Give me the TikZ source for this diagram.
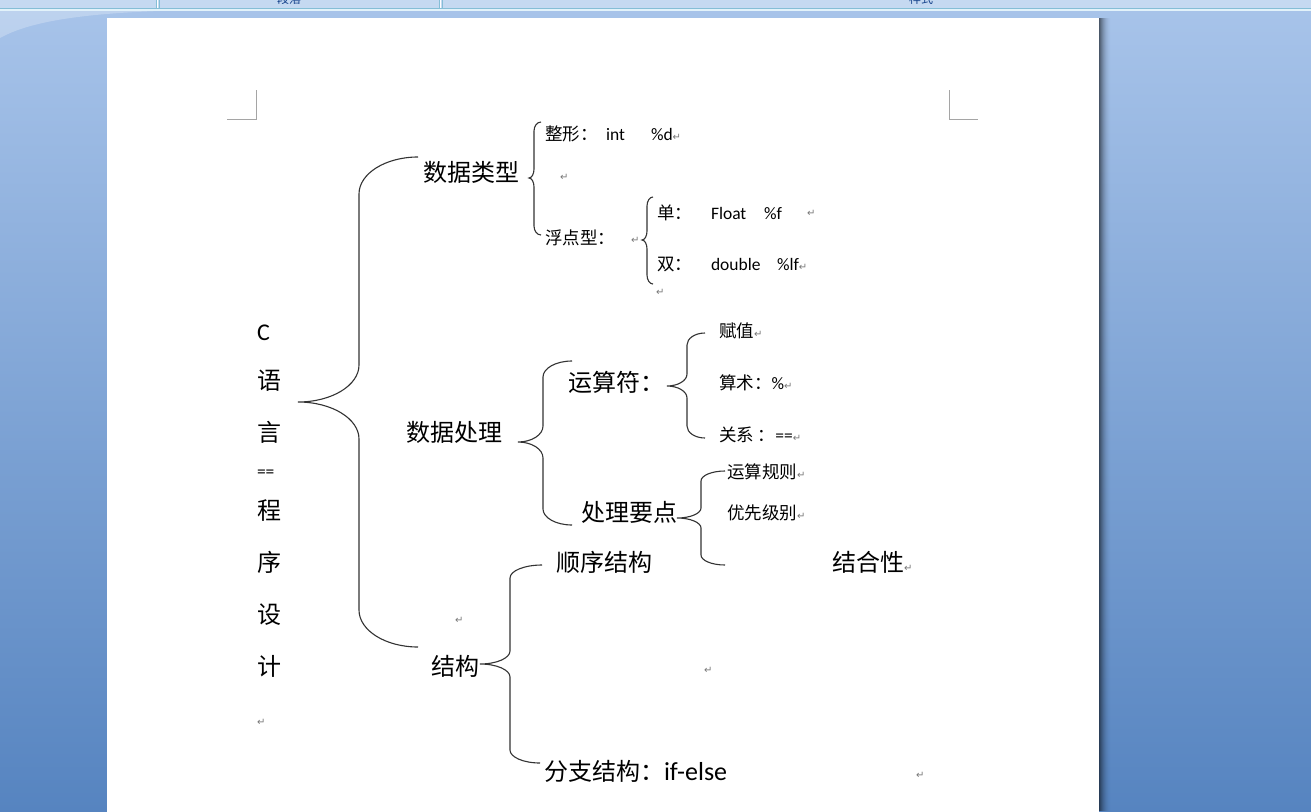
\documentclass[tikz,border=0pt]{standalone}
\usepackage{fontspec}
\setmainfont{Noto Sans CJK SC}
\newfontfamily\carl{Carlito}
\newfontfamily\djv{DejaVu Sans}
\definecolor{bgtop}{RGB}{168,196,234}
\definecolor{bgmid}{RGB}{122,161,213}
\definecolor{bgbot}{RGB}{86,132,192}
\definecolor{barc}{RGB}{197,217,241}
\definecolor{barline}{RGB}{133,190,214}
\definecolor{barlight}{RGB}{226,242,250}
\definecolor{tabtxt}{RGB}{21,66,139}
\definecolor{markgray}{RGB}{165,165,165}
\definecolor{retgray}{RGB}{120,120,120}
\newcommand\lat[1]{{\carl #1}}
\newcommand\ret{{\djv\fontsize{10}{10}\selectfont\textcolor{retgray}{↵}}}
\newcommand\wbrace[9]{%
 \pgfmathsetmacro\wbA{#5-0.552*(#5-#4)}%
 \pgfmathsetmacro\wbB{#6+0.448*#9}%
 \pgfmathsetmacro\wbC{#6+#9}%
 \pgfmathsetmacro\wbD{#3-#9}%
 \pgfmathsetmacro\wbE{#3-0.448*#9}%
 \pgfmathsetmacro\wbF{#2+0.552*(#4-#2)}%
 \pgfmathsetmacro\wbG{#3+#9}%
 \pgfmathsetmacro\wbH{#3+0.448*#9}%
 \pgfmathsetmacro\wbI{#8-#9}%
 \pgfmathsetmacro\wbJ{#8-0.448*#9}%
 \pgfmathsetmacro\wbK{#7-0.552*(#7-#4)}%
 \coordinate (#1-tip) at (#2,#3);
 \coordinate (#1-top) at (#5,#6);
 \coordinate (#1-bot) at (#7,#8);
 \draw[wbr] (#1-top) .. controls (\wbA,#6) and (#4,\wbB) .. (#4,\wbC) -- (#4,\wbD)
   .. controls (#4,\wbE) and (\wbF,#3) .. (#1-tip)
   .. controls (\wbF,#3) and (#4,\wbH) .. (#4,\wbG) -- (#4,\wbI)
   .. controls (#4,\wbJ) and (\wbK,#8) .. (#1-bot);
}
\tikzset{
 txt/.style={anchor=west, inner sep=0pt, outer sep=0pt},
 big/.style={txt, font=\fontsize{24}{24}\selectfont, text height=21pt, text depth=3pt},
 small/.style={txt, font=\fontsize{17.5}{17.5}\selectfont, text height=15.4pt, text depth=2.1pt},
 retonly/.style={txt},
 wbr/.style={line width=1.1pt, draw=black!80},
 cornermark/.style={draw=markgray, line width=1pt},
}
\begin{document}
\begin{tikzpicture}[x=1pt,y=-1pt]
\useasboundingbox (0,0) rectangle (1311,811);
\clip (0,0) rectangle (1311,811);
% background
\shade[top color=bgtop, middle color=bgmid, bottom color=bgbot] (0,0) rectangle (1311,811);
\fill[white, opacity=0.25] (0,11) -- (160,11) .. controls (70,14) and (25,24) .. (0,38) -- cycle;
% top bar
\fill[barc] (0,0) rectangle (1311,8);
\fill[barline] (0,8) rectangle (1311,9);
\fill[barlight] (0,9) rectangle (1311,11);
\draw[white, line width=1.5pt] (157.5,0) -- (157.5,8);
\draw[white, line width=1.5pt] (440.5,0) -- (440.5,8);
\draw[barline, line width=0.6pt] (156,0) -- (156,8) (159,0) -- (159,8) (439,0) -- (439,8) (442,0) -- (442,8);
\node[anchor=base, inner sep=0pt, text=tabtxt, font=\fontsize{12}{12}\selectfont] (tab1) at (289,3.5) {段落};
\node[anchor=base, inner sep=0pt, text=tabtxt, font=\fontsize{12}{12}\selectfont] (tab2) at (921,3.5) {样式};
% page
\fill[white] (107,18) rectangle (1099,820);
\foreach \i in {0,...,11} {
 \pgfmathsetmacro\op{0.55*(1-\i/12)^2}
 \draw[black, opacity=\op, line width=1pt] (1099.5+\i,18) -- (1099.5+\i,811);
}
% corner marks
\draw[cornermark] (227,119) -- (256,119) -- (256,90);
\draw[cornermark] (949,90) -- (949,119) -- (978,119);
% left column
\node[big] (c) at (257,331) {\lat{C}};
\node[big] (yu) at (257,380) {语};
\node[big] (yan) at (257,432) {言};
\node[small] (eq) at (257,471) {\lat{==}};
\node[big] (cheng) at (257,510) {程};
\node[big] (xu) at (257,562) {序};
\node[big] (she) at (257,614) {设};
\node[big] (ji) at (257,666) {计};
\node[retonly] (r0) at (257,722) {\ret};
% main brace
\wbrace{b0}{298}{402}{359}{418}{157}{418}{647}{37}
\node[big] (dt) at (423,172) {数据类型};
\node[big] (dp) at (406,432) {数据处理};
\node[big] (jg) at (431,666) {结构};
% data types
\wbrace{b1}{529}{178}{534}{541}{122}{541}{235}{9}
\node[small] (zx) at (545,134) {整形：};
\node[small] (int) at (606,134) {\lat{int}};
\node[small] (pd) at (651,134) {\lat{\%d}\ret};
\node[retonly] (r1) at (560,177) {\ret};
\node[small] (fd) at (545,238) {浮点型：};
\node[retonly] (r2) at (631,240) {\ret};
\wbrace{b2}{642}{240}{647}{653}{197}{653}{284}{9}
\node[small] (dan) at (657,213) {单：};
\node[small] (flt) at (711,213) {\lat{Float}};
\node[small] (pf) at (764,213) {\lat{\%f}};
\node[retonly] (r3) at (807,213) {\ret};
\node[small] (shuang) at (657,264) {双：};
\node[small] (dbl) at (711,264) {\lat{double}};
\node[small] (plf) at (777,264) {\lat{\%lf}\ret};
\node[retonly] (r4) at (656,292) {\ret};
% data processing
\wbrace{b3}{518}{442}{543}{572}{361}{572}{525}{16}
\node[big] (ysf) at (568,382) {运算符：};
\wbrace{b4}{667}{386}{687}{705}{333}{705}{438}{12}
\node[small] (fz) at (719,331) {赋值\ret};
\node[small] (ss) at (719,383) {算术：\lat{\%}\ret};
\node[small] (gx) at (719,435) {关系 ：\lat{==}\ret};
\node[big] (clyd) at (581,512) {处理要点};
\wbrace{b5}{677}{518}{701}{725}{471}{725}{565}{10}
\node[small] (ysgz) at (727,472) {运算规则\ret};
\node[small] (yxjb) at (727,513) {优先级别\ret};
\node[big] (jhx) at (832,562) {结合性\ret};
% structure
\wbrace{b6}{480}{664}{510}{542}{565}{540}{763}{13}
\node[big] (sxjg) at (556,562) {顺序结构};
\node[big] (fzjg) at (544,771) {分支结构：\lat{\fontsize{26}{26}\selectfont if-else}};
\node[retonly] (r5) at (916,775) {\ret};
\node[retonly] (r6) at (455,620) {\ret};
\node[retonly] (r7) at (704,670) {\ret};
\end{tikzpicture}
\end{document}
